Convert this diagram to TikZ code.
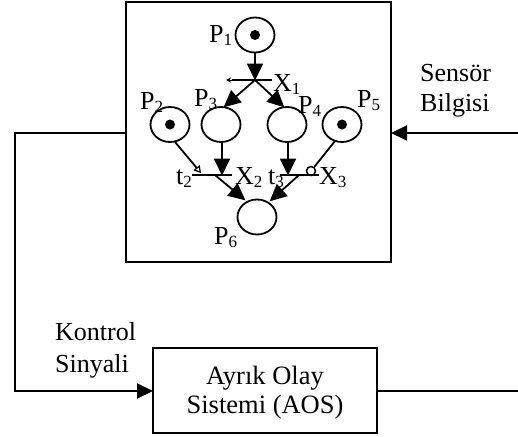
\documentclass[tikz,border=0pt]{standalone}
\usepackage{fontspec}
\setmainfont{Liberation Serif}
\usetikzlibrary{arrows.meta,shapes.geometric}
\newcommand\sbs[1]{\raisebox{-3pt}{\fontsize{17pt}{17pt}\selectfont #1}}
\tikzset{x=1pt,y=-1pt,
 arc/.style={line width=1.8pt,-{Triangle[length=17pt,width=16pt]},shorten >=-0.5pt},
 place/.style={draw,line width=1.8pt,ellipse,minimum width=39pt,minimum height=35pt,inner sep=0pt},
 tok/.style={fill,circle,minimum size=10pt,inner sep=0pt},
 bar/.style={line width=1.8pt},
 lab/.style={font=\fontsize{26pt}{30pt}\selectfont,inner sep=0pt},
 boxlab/.style={font=\fontsize{26.5pt}{29.5pt}\selectfont,align=center,inner sep=0pt},
 sidelab/.style={font=\fontsize{26pt}{30pt}\selectfont,inner sep=0pt}}
\begin{document}
\begin{tikzpicture}
\useasboundingbox (0,0) rectangle (518,436);
\node[draw,line width=2pt,minimum width=265pt,minimum height=260pt,inner sep=0pt] (frame) at (258.5,132) {};
\node[draw,line width=2pt,minimum width=224pt,minimum height=85pt,inner sep=0pt] (aos) at (265,390.5) {};
\coordinate (rs) at (518,133);
\coordinate (ra) at (518,391);
\coordinate (fl) at (126,132.5);
\coordinate (c1) at (15,132.5);
\coordinate (c2) at (15,391);
\coordinate (al) at (153,391);
\coordinate (ar) at (377,391);
\coordinate (fr) at (391,133);
\draw[line width=2pt,-{Triangle[length=16pt,width=15pt]}] (rs) -- (fr);
\draw[line width=2pt] (ar) -- (ra);
\draw[line width=2pt,-{Triangle[length=16pt,width=15pt]}] (fl) -- (c1) -- (c2) -- (al);
\node[place] (p1) at (255,35) {};
\node[place] (p2) at (170,124.5) {};
\node[place] (p3) at (221,124.5) {};
\node[place] (p4) at (287,124.5) {};
\node[place] (p5) at (342,124.5) {};
\node[place] (p6) at (257,217) {};
\node[tok] at (p1) {};
\node[tok] at (p2) {};
\node[tok] at (p5) {};
\coordinate (x1) at (255,80);
\coordinate (x1l) at (232,80);
\coordinate (x1r) at (272,80);
\coordinate (x2l) at (192,175);
\coordinate (x2r) at (232,175);
\coordinate (x3l) at (280,175);
\coordinate (x3r) at (319,175);
\coordinate (t2in) at (201,173);
\coordinate (x2m) at (222,175);
\coordinate (x3m) at (288,175);
\coordinate (x2o) at (215,175);
\coordinate (x3o) at (299,175);
\draw[bar] (x1l) -- (x1r);
\draw[bar] (x2l) -- (x2r);
\draw[bar] (x3l) -- (x3r);
\draw[line width=1pt,-{Stealth[length=5pt,width=5pt]}] (x1l) -- (226,80);
\draw[arc] (255,52.5) -- (x1);
\draw[arc] (x1) -- (224,107);
\draw[arc] (x1) -- (284,107);
\draw[line width=1.8pt,-{Triangle[open,length=7pt,width=8pt,line width=1.2pt]}] (175,142) -- (t2in);
\draw[arc] (222,142) -- (x2m);
\draw[arc] (288,142) -- (x3m);
\node[draw,circle,line width=1.5pt,minimum size=9pt,inner sep=0pt] (inh) at (311,171) {};
\draw[line width=1.8pt] (335,141) -- (inh);
\draw[arc] (x2o) -- (245,200);
\draw[arc] (x3o) -- (270,201);
\node[lab,anchor=base west] at (209,42) {P\sbs{1}};
\node[lab,anchor=base west] at (140,109) {P\sbs{2}};
\node[lab,anchor=base west] at (194,106) {P\sbs{3}};
\node[lab,anchor=base west] at (298,113) {P\sbs{4}};
\node[lab,anchor=base west] at (357,107) {P\sbs{5}};
\node[lab,anchor=base west] at (214,244) {P\sbs{6}};
\node[lab,anchor=base west] at (273,91) {X\sbs{1}};
\node[lab,anchor=base west] at (235,184) {X\sbs{2}};
\node[lab,anchor=base west] at (319,184) {X\sbs{3}};
\node[lab,anchor=base west] at (176,184) {t\sbs{2}};
\node[lab,anchor=base west] at (268,184) {t\sbs{3}};
\node[sidelab,anchor=base west] (s1) at (420,81) {Sensör};
\node[sidelab,anchor=base west] (s2) at (420,111) {Bilgisi};
\node[sidelab,anchor=base west] (k1) at (55,340) {Kontrol};
\node[sidelab,anchor=base west] (k2) at (55,372) {Sinyali};
\node[boxlab,anchor=base] (a1) at (265,384) {Ayrık Olay};
\node[boxlab,anchor=base] (a2) at (265,413) {Sistemi (AOS)};
\end{tikzpicture}
\end{document}
